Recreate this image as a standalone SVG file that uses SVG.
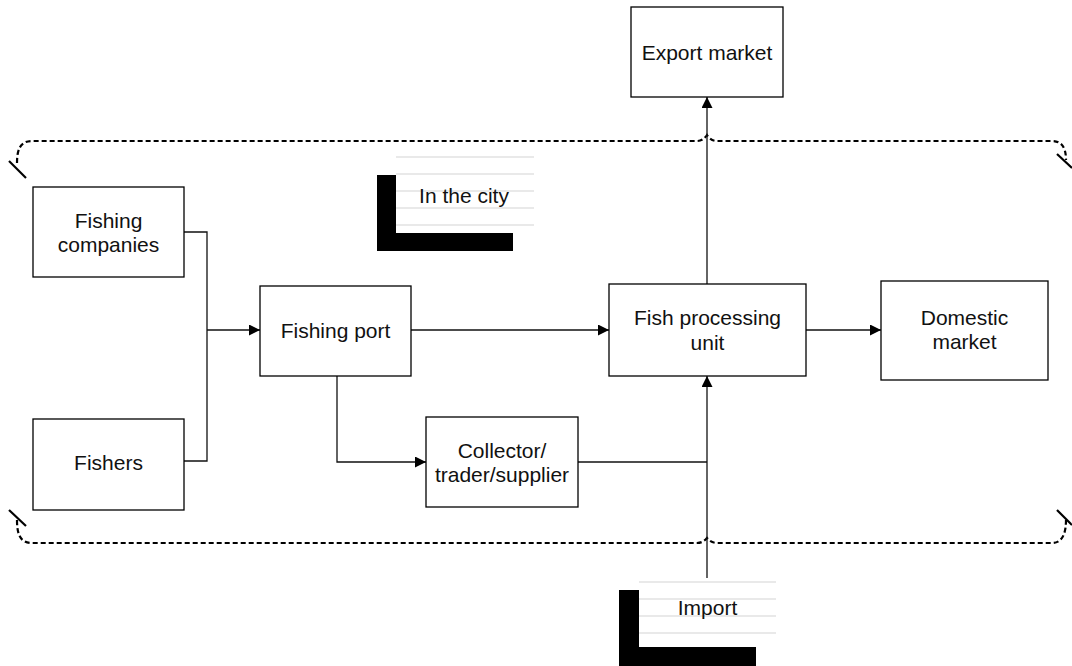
<svg xmlns="http://www.w3.org/2000/svg" width="1072" height="666" viewBox="0 0 1072 666">
<defs>
<style>
.box{fill:#fff;stroke:#000;stroke-width:1.3}
.t{font-family:"Liberation Sans",Arial,sans-serif;font-size:21px;fill:#111;text-anchor:middle}
.c{fill:none;stroke:#111;stroke-width:1.3}
.brace{fill:none;stroke:#000;stroke-width:2.2;stroke-dasharray:5 3}
.slash{stroke:#000;stroke-width:2.2}
.gl{stroke:#e2e2e2;stroke-width:1.6}
</style>
<marker id="ah" viewBox="0 0 11 11" refX="11" refY="5.5" markerWidth="11" markerHeight="11" markerUnits="userSpaceOnUse" orient="auto">
<path d="M0,0 L11,5.5 L0,11 Z" fill="#000"/>
</marker>
</defs>
<rect width="1072" height="666" fill="#fff"/>

<g id="brace">
<path class="brace" d="M17,163 C17,150 20,141 32,141 L697,141 Q703,141 707,135 Q711,141 717,141 L1052,141 C1062,141 1066,148 1066,160"/>
<path class="brace" d="M17,520 C17,534 20,543 32,543 L697,543 Q703,543 707,538 Q711,543 717,543 L1052,543 C1062,543 1066,534 1066,520"/>
<line class="slash" x1="9" y1="161" x2="26" y2="178"/>
<line class="slash" x1="1057" y1="154" x2="1072" y2="168"/>
<line class="slash" x1="9" y1="510" x2="26" y2="526"/>
<line class="slash" x1="1057" y1="510" x2="1072" y2="525"/>
</g>

<g id="connectors">
<polyline class="c" points="184,232 207,232 207,461 184,461"/>
<line class="c" x1="207" y1="330" x2="260" y2="330" marker-end="url(#ah)"/>
<line class="c" x1="411" y1="330" x2="609" y2="330" marker-end="url(#ah)"/>
<line class="c" x1="806" y1="330" x2="881" y2="330" marker-end="url(#ah)"/>
<line class="c" x1="707" y1="284" x2="707" y2="97" marker-end="url(#ah)"/>
<polyline class="c" points="337,376 337,462 426,462" marker-end="url(#ah)"/>
<line class="c" x1="578" y1="462" x2="707" y2="462"/>
<line class="c" x1="707" y1="578" x2="707" y2="376" marker-end="url(#ah)"/>
</g>

<g id="export-market">
<rect class="box" x="631" y="7" width="152" height="90"/>
<text class="t" x="707" y="59.5">Export market</text>
</g>
<g id="fishing-companies">
<rect class="box" x="33" y="187" width="151" height="90"/>
<text class="t" x="108.5" y="227.5">Fishing</text>
<text class="t" x="108.5" y="251.5">companies</text>
</g>
<g id="fishers">
<rect class="box" x="33" y="419" width="151" height="91"/>
<text class="t" x="108.5" y="470">Fishers</text>
</g>
<g id="fishing-port">
<rect class="box" x="260" y="286" width="151" height="90"/>
<text class="t" x="335.5" y="337.5">Fishing port</text>
</g>
<g id="fish-processing-unit">
<rect class="box" x="609" y="284" width="197" height="92"/>
<text class="t" x="707.5" y="325">Fish processing</text>
<text class="t" x="707.5" y="349.5">unit</text>
</g>
<g id="domestic-market">
<rect class="box" x="881" y="281" width="167" height="99"/>
<text class="t" x="964.5" y="325">Domestic</text>
<text class="t" x="964.5" y="349">market</text>
</g>
<g id="collector">
<rect class="box" x="426" y="417" width="152" height="90"/>
<text class="t" x="502" y="457.5">Collector/</text>
<text class="t" x="502" y="482">trader/supplier</text>
</g>

<g id="in-the-city">
<line class="gl" x1="396" y1="157" x2="534" y2="157"/>
<line class="gl" x1="396" y1="174" x2="534" y2="174"/>
<line class="gl" x1="396" y1="191" x2="534" y2="191"/>
<line class="gl" x1="396" y1="208" x2="534" y2="208"/>
<line class="gl" x1="396" y1="225" x2="534" y2="225"/>
<rect x="377" y="175" width="19" height="76" fill="#000"/>
<rect x="377" y="233" width="136" height="18" fill="#000"/>
<text class="t" x="464" y="203">In the city</text>
</g>

<g id="import">
<line class="gl" x1="639" y1="582" x2="776" y2="582"/>
<line class="gl" x1="639" y1="599" x2="776" y2="599"/>
<line class="gl" x1="639" y1="616" x2="776" y2="616"/>
<line class="gl" x1="639" y1="633" x2="776" y2="633"/>
<rect x="619" y="590" width="20" height="76" fill="#000"/>
<rect x="619" y="647" width="137" height="19" fill="#000"/>
<text class="t" x="707.5" y="615">Import</text>
</g>
</svg>
